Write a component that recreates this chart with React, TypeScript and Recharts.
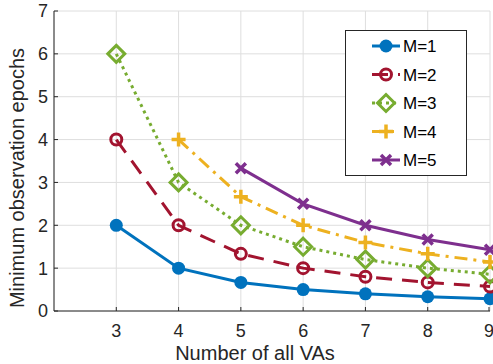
import React from 'react';
import { LineChart, Line, XAxis, YAxis, CartesianGrid, Legend } from 'recharts';

const vaCounts = [3, 4, 5, 6, 7, 8, 9];
const m1 = [2, 1, 0.667, 0.5, 0.4, 0.333, 0.286];
const m2 = [4, 2, 1.333, 1, 0.8, 0.667, 0.571];
const m3 = [6, 3, 2, 1.5, 1.2, 1, 0.857];
const m4 = [null, 4, 2.667, 2, 1.6, 1.333, 1.143];
const m5 = [null, null, 3.333, 2.5, 2, 1.667, 1.429];
const xTicks = [3, 4, 5, 6, 7, 8, 9];
const yTicks = [0, 1, 2, 3, 4, 5, 6, 7];

const data = vaCounts.map((n, i) => ({ n, m1: m1[i], m2: m2[i], m3: m3[i], m4: m4[i], m5: m5[i] }));

const FONT = '"Liberation Sans", Arial, Helvetica, sans-serif';
const AXIS = '#262626';

type Shape = 'dot' | 'circle' | 'diamond' | 'plus' | 'cross';

const series: { key: string; name: string; color: string; dash?: string; shape: Shape }[] = [
    { key: 'm1', name: 'M=1', color: '#0072BD', shape: 'dot' },
    { key: 'm2', name: 'M=2', color: '#A2142F', dash: '16 10', shape: 'circle' },
    { key: 'm3', name: 'M=3', color: '#77AC30', dash: '3 4', shape: 'diamond' },
    { key: 'm4', name: 'M=4', color: '#EDB120', dash: '13 6 3 6', shape: 'plus' },
    { key: 'm5', name: 'M=5', color: '#7E2F8E', shape: 'cross' },
];

const marker = (shape: Shape, color: string, cx: number, cy: number, key?: string) => {
    switch (shape) {
        case 'dot':
            return <circle key={key} cx={cx} cy={cy} r={6.5} fill={color} />;
        case 'circle':
            return <circle key={key} cx={cx} cy={cy} r={5.5} fill="none" stroke={color} strokeWidth={3} />;
        case 'diamond':
            return (
                <path key={key} d={`M${cx},${cy - 8.5}L${cx + 8.5},${cy}L${cx},${cy + 8.5}L${cx - 8.5},${cy}Z`}
                    fill="none" stroke={color} strokeWidth={3} />
            );
        case 'plus':
            return (
                <path key={key} d={`M${cx - 7},${cy}H${cx + 7}M${cx},${cy - 7}V${cy + 7}`}
                    fill="none" stroke={color} strokeWidth={3.5} />
            );
        case 'cross':
        default:
            return (
                <path key={key} d={`M${cx - 5},${cy - 5}L${cx + 5},${cy + 5}M${cx - 5},${cy + 5}L${cx + 5},${cy - 5}`}
                    fill="none" stroke={color} strokeWidth={3.5} />
            );
    }
};

const YTick = (p: any) => (
    <g>
        <line x1={p.x} x2={p.x + 4} y1={p.y} y2={p.y} stroke={AXIS} />
        <text x={p.x - 6} y={p.y} dy="0.36em" textAnchor="end" fill={AXIS} fontSize={18} fontFamily={FONT}>
            {p.payload.value}
        </text>
    </g>
);

const XTick = (p: any) => (
    <g>
        <line x1={p.x} x2={p.x} y1={p.y} y2={p.y - 4} stroke={AXIS} />
        <text x={p.x} y={p.y + 26} textAnchor="middle" fill={AXIS} fontSize={18} fontFamily={FONT}>
            {p.payload.value}
        </text>
    </g>
);

const TopTick = (p: any) => <line x1={p.x} x2={p.x} y1={p.y} y2={p.y + 4} stroke={AXIS} />;
const RightTick = (p: any) => <line x1={p.x} x2={p.x - 4} y1={p.y} y2={p.y} stroke={AXIS} />;

const XLabel = () => (
    <text x={255} y={360} textAnchor="middle" fill={AXIS} fontSize={20} fontFamily={FONT}>Number of all VAs</text>
);

const YLabel = () => (
    <text x={24} y={178} transform="rotate(-90 24 178)" textAnchor="middle" fill={AXIS} fontSize={20} fontFamily={FONT}>
        Minimum observation epochs
    </text>
);

const LegendBox = () => (
    <svg width={122} height={146}>
        <rect x={0.5} y={0.5} width={121} height={145} fill="#fff" stroke={AXIS} />
        {series.map((s, i) => {
            const y = 16 + i * 28.5;
            return (
                <g key={s.key}>
                    <line x1={27} x2={55} y1={y} y2={y} stroke={s.color} strokeWidth={3} strokeDasharray={s.dash} />
                    {marker(s.shape, s.color, 41, y)}
                    <text x={58} y={y} dy="0.36em" fontSize={17} fontFamily={FONT} fill="#000">{s.name}</text>
                </g>
            );
        })}
    </svg>
);

const App: React.FC = () => (
    <div style={{ position: 'absolute', left: 0, top: 0 }}>
        <LineChart width={493} height={364} data={data} margin={{ top: 11, right: 3, left: 0, bottom: 0 }}>
            <CartesianGrid stroke="#dedede" strokeWidth={1} />
            <XAxis dataKey="n" type="number" domain={[2, 9]} ticks={xTicks} height={53}
                stroke={AXIS} tickLine={false} tickSize={0} tickMargin={0} tick={(p: any) => <XTick {...p} />}
                label={{ content: () => <XLabel /> }} />
            <XAxis xAxisId="top" orientation="top" dataKey="n" type="number" domain={[2, 9]} ticks={xTicks}
                height={0} stroke={AXIS} tickLine={false} tickSize={0} tick={(p: any) => <TopTick {...p} />} />
            <YAxis domain={[0, 7]} ticks={yTicks} width={54} stroke={AXIS} tickLine={false} tickSize={0} tickMargin={0}
                tick={(p: any) => <YTick {...p} />}
                label={{ content: () => <YLabel /> }} />
            <YAxis yAxisId="right" orientation="right" domain={[0, 7]} ticks={yTicks} width={0} stroke={AXIS}
                tickLine={false} tickSize={0} tick={(p: any) => <RightTick {...p} />} />
            <Legend layout="vertical" align="center" verticalAlign="middle" content={() => <LegendBox />}
                wrapperStyle={{ position: 'absolute', left: 345, top: 30, width: 122, height: 146 }} />
            {series.map((s) => (
                <Line key={s.key} dataKey={s.key} name={s.name} stroke={s.color} strokeWidth={3}
                    strokeDasharray={s.dash} isAnimationActive={false}
                    dot={(p: any) => (p.cy == null || p.value == null ? <g key={p.key} /> : marker(s.shape, s.color, p.cx, p.cy, p.key))}
                    activeDot={false} />
            ))}
        </LineChart>
    </div>
);

export default App;
